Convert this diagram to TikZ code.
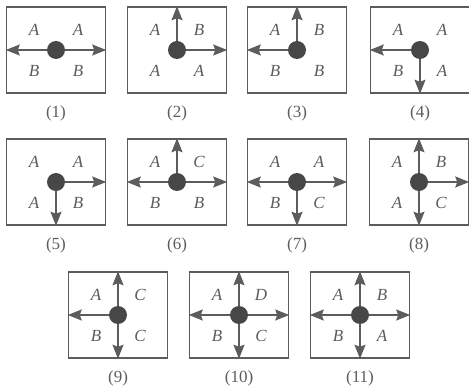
\documentclass[tikz,border=0pt]{standalone}
\usepackage{fontspec}
\setmainfont{Liberation Serif}
\usetikzlibrary{arrows.meta,positioning,calc}
\definecolor{inkgray}{HTML}{5C5C5C}
\definecolor{dotgray}{HTML}{474747}

% four region letters round the hub of panel #1: top left, top right, bottom left, bottom right
\newcommand{\regions}[5]{%
  \node[lab] (tl#1) at ($(hub#1)+(-22,-20)$) {#2};
  \node[lab] (tr#1) at ($(hub#1)+(22,-20)$) {#3};
  \node[lab] (bl#1) at ($(hub#1)+(-22,21)$) {#4};
  \node[lab] (br#1) at ($(hub#1)+(22,21)$) {#5};}

\begin{document}
\begin{tikzpicture}[x=1pt, y=-1pt,
  panel/.style={draw=inkgray, line width=1.5pt, minimum width=99pt, minimum height=86pt, inner sep=0pt},
  hub/.style={circle, fill=dotgray, minimum size=18pt, inner sep=0pt},
  lab/.style={font=\fontsize{17}{20}\selectfont\itshape, text=inkgray, inner sep=0pt},
  capt/.style={font=\fontsize{17}{20}\selectfont, text=inkgray, inner sep=0pt},
  flow/.style={-{Stealth[length=14pt, width=11pt, inset=2pt]}, draw=inkgray, fill=inkgray, line width=1.6pt},
  node distance=12pt]
\useasboundingbox (0,0) rectangle (469,390);

% first row
\node[panel] (box1) at (56,50) {};
\node[panel] (box2) at (177,50) {};
\node[panel] (box3) at (297,50) {};
\node[panel] (box4) at (420,50) {};
% second row
\node[panel] (box5) at (56,182) {};
\node[panel] (box6) at (177,182) {};
\node[panel] (box7) at (297,182) {};
\node[panel] (box8) at (419,182) {};
% third row
\node[panel] (box9) at (118,315) {};
\node[panel] (box10) at (239,315) {};
\node[panel] (box11) at (360,315) {};

\foreach \i in {1,...,11}{
  \node[hub] (hub\i) at (box\i.center) {};
  \node[capt, below=of box\i] (cap\i) {(\i)};
}

\regions{1}{A}{A}{B}{B}
\regions{2}{A}{B}{A}{A}
\regions{3}{A}{B}{B}{B}
\regions{4}{A}{A}{B}{A}
\regions{5}{A}{A}{A}{B}
\regions{6}{A}{C}{B}{B}
\regions{7}{A}{A}{B}{C}
\regions{8}{A}{B}{A}{C}
\regions{9}{A}{C}{B}{C}
\regions{10}{A}{D}{B}{C}
\regions{11}{A}{B}{B}{A}

\draw[flow] (hub1) -- (box1.west);
\draw[flow] (hub1) -- (box1.east);
\draw[flow] (hub2) -- (box2.north);
\draw[flow] (hub2) -- (box2.east);
\draw[flow] (hub3) -- (box3.north);
\draw[flow] (hub3) -- (box3.west);
\draw[flow] (hub4) -- (box4.west);
\draw[flow] (hub4) -- (box4.south);
\draw[flow] (hub5) -- (box5.east);
\draw[flow] (hub5) -- (box5.south);
\draw[flow] (hub6) -- (box6.north);
\draw[flow] (hub6) -- (box6.west);
\draw[flow] (hub6) -- (box6.east);
\draw[flow] (hub7) -- (box7.west);
\draw[flow] (hub7) -- (box7.east);
\draw[flow] (hub7) -- (box7.south);
\draw[flow] (hub8) -- (box8.north);
\draw[flow] (hub8) -- (box8.east);
\draw[flow] (hub8) -- (box8.south);
\draw[flow] (hub9) -- (box9.north);
\draw[flow] (hub9) -- (box9.west);
\draw[flow] (hub9) -- (box9.south);
\foreach \i in {10,11}{
  \draw[flow] (hub\i) -- (box\i.north);
  \draw[flow] (hub\i) -- (box\i.west);
  \draw[flow] (hub\i) -- (box\i.east);
  \draw[flow] (hub\i) -- (box\i.south);
}
\end{tikzpicture}
\end{document}
